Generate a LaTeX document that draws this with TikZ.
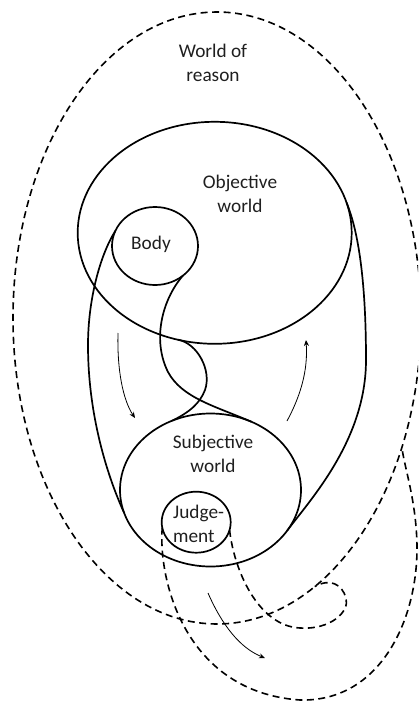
\documentclass[tikz,border=0pt]{standalone}
\usepackage{fontspec}
\setmainfont{Carlito}
\usetikzlibrary{shapes.geometric,arrows.meta}

\begin{document}
\begin{tikzpicture}[x=1pt,y=-1pt,
  solidline/.style={line width=1.7pt},
  dashline/.style={line width=1.6pt, dash pattern=on 7pt off 4.5pt},
  region/.style={ellipse, draw, solidline, inner sep=0pt, outer sep=0pt},
  flow/.style={line width=0.8pt, -{Stealth[length=6pt,width=5pt]}},
  lbl/.style={font=\fontsize{19.3pt}{24pt}\selectfont, inner sep=0pt, align=center, text=black!88}]
\useasboundingbox (0,0) rectangle (418,704);
\clip (0,0) rectangle (418,704);

% regions
\node[ellipse, draw, dashline, inner sep=0pt, outer sep=0pt, minimum width=408pt, minimum height=612pt] (world) at (217,318) {};
\node[region, minimum width=274pt, minimum height=222pt] (obj) at (214.7,232.8) {};
\node[region, minimum width=86pt, minimum height=78pt] (body) at (155,246) {};
\node[region, minimum width=181pt, minimum height=153pt] (subj) at (210.5,490) {};
\node[region, minimum width=69pt, minimum height=61pt] (judg) at (196.2,522.2) {};

% labels
\node[lbl] (tworld) at (213,63) {World of\\reason};
\node[lbl] (tobj) at (240,194) {Objective\\world};
\node[lbl, anchor=base] (tbody) at (151,249) {Body};
\node[lbl] (tsubj) at (213,454) {Subjective\\world};
\node[lbl, align=left, anchor=west] (tjudg) at (173,524) {Judge-\\ment};

% big solid loop
\draw[solidline] (body.159) .. controls (100,255) and (88,300) .. (88,345)
  .. controls (88,420) and (110,482) .. (subj.195);
\draw[solidline] (subj.-28) .. controls (310,500) and (366,440) .. (366,360)
  .. controls (366,290) and (360,235) .. (obj.13);

% crossing curves between body/objective and subjective
\draw[solidline] (body.-47) .. controls (162,300) and (152,340) .. (168,372)
  .. controls (182,398) and (215,406) .. (subj.59);
\draw[solidline] (obj.251) .. controls (197,343) and (212,370) .. (205,390)
  .. controls (200,403) and (190,412) .. (subj.119);

% arrows
\coordinate (a1s) at (118,333);
\coordinate (a1e) at (135,418);
\draw[flow] (a1s) .. controls (117,370) and (123,400) .. (a1e);
\coordinate (a2s) at (287,421);
\coordinate (a2e) at (306,340);
\draw[flow] (a2s) .. controls (301,395) and (308,370) .. (a2e);
\coordinate (a3s) at (208,593);
\coordinate (a3e) at (265,658);
\draw[flow] (a3s) .. controls (222,625) and (240,648) .. (a3e);

% dashed judgement curves
\draw[dashline] (judg.189) .. controls (158,580) and (185,692) .. (300,700)
  .. controls (380,702) and (418,620) .. (417,545)
  .. controls (416,500) and (405,470) .. (world.-35);
\draw[dashline] (judg.-13) .. controls (234,570) and (258,626) .. (300,628)
  .. controls (330,630) and (350,612) .. (346,598)
  .. controls (342,584) and (330,578) .. (world.-70);
\end{tikzpicture}
\end{document}
